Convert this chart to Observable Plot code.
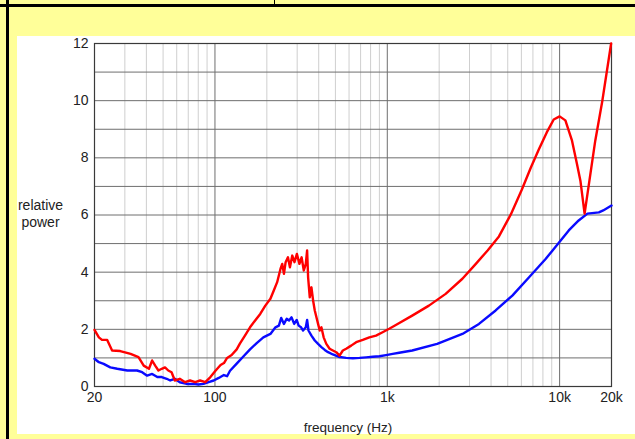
<!DOCTYPE html>
<html>
<head>
<meta charset="utf-8">
<script src="https://cdn.jsdelivr.net/npm/d3@7"></script>
<script src="https://cdn.jsdelivr.net/npm/@observablehq/plot@0.6"></script>
<style>
  html, body { margin: 0; padding: 0; }
  body { width: 635px; height: 439px; background: #ffff99; position: relative; overflow: hidden; font-family: "Liberation Sans", Arial, sans-serif; }
  #panel { position: absolute; left: 17px; top: 36px; width: 618px; height: 398px; background: #ffffff; }
  #hline { position: absolute; left: 0; top: 4px; width: 635px; height: 3px; background: #000; }
  #vline { position: absolute; left: 6px; top: 0; width: 3px; height: 439px; background: #000; }
  #tick { position: absolute; left: 274px; top: 0; width: 1px; height: 5px; background: #000; }
  #chart { position: absolute; left: 0; top: 0; }
</style>
</head>
<body>
<div id="panel"></div>
<div id="hline"></div>
<div id="vline"></div>
<div id="tick"></div>
<div id="chart"></div>
<script>
// Red series (frequency in Hz, relative power)
const redFreq = [20, 21.2, 22.1, 23.7, 25.3, 28.2, 32.4, 36.0, 38.6, 41.4, 43.2, 45.0, 47.0, 49.1, 51.3, 53.6, 56.0, 58.5, 62.5, 67.1, 71.7, 76.8, 82.0, 87.9, 94.1,
  100.7, 107.8, 112.8, 117.6, 125, 133.7, 139.5, 149.3, 159.8, 171.1, 183.1, 196, 209.8, 219.5, 229.6, 240.2, 245.7, 251.4, 257.1, 265.2, 272.3, 281, 289.3, 298.8,
  309.2, 318.2, 327.7, 336.6, 342.6, 347.2, 355, 363, 371.1, 379.5, 388, 396.6, 405.5, 414.6, 427.3, 442.8, 462.8, 483.5, 505.6, 528.4, 552.2, 577.3, 617.2, 659.9,
  720.7, 787.1, 860.2, 939.5, 1026, 1121, 1395, 1744, 2181, 2728, 3264, 3820, 4446, 5210, 6040, 6810, 7570, 8420, 9240, 10000, 10800, 11800, 12600, 13200, 13960, 16100, 17700, 19900];
const redPower = [1.98, 1.72, 1.63, 1.63, 1.26, 1.24, 1.14, 1.03, 0.73, 0.62, 0.91, 0.73, 0.56, 0.62, 0.67, 0.56, 0.50, 0.21, 0.27, 0.15, 0.21, 0.15, 0.21, 0.15, 0.33,
  0.55, 0.75, 0.82, 1.0, 1.1, 1.3, 1.5, 1.78, 2.07, 2.31, 2.54, 2.83, 3.07, 3.36, 3.65, 4.12, 4.29, 3.94, 4.35, 4.52, 4.17, 4.58, 4.35, 4.64,
  4.29, 4.52, 4.06, 4.29, 4.76, 3.82, 3.12, 3.47, 3.01, 2.66, 2.42, 2.19, 1.96, 2.07, 1.72, 1.49, 1.32, 1.26, 1.20, 1.08, 1.26, 1.32, 1.43, 1.55,
  1.63, 1.72, 1.78, 1.90, 2.02, 2.15, 2.48, 2.83, 3.24, 3.77, 4.29, 4.76, 5.25, 6.02, 6.89, 7.66, 8.29, 8.89, 9.34, 9.45, 9.31, 8.6, 7.79, 7.2, 6.05, 8.6, 10.0, 12.0];

// Blue series
const blueFreq = [20, 21.2, 22.6, 24.7, 27.1, 31.0, 35.3, 37.8, 40.4, 43.2, 46.3, 49.1, 52.5, 55.0, 58.5, 62.5, 68.6, 75.0, 80.2, 85.8, 91.9, 98.3,
  105.2, 112.6, 117.6, 122.3, 133.7, 146.1, 159.8, 174.7, 190.9, 209.8, 224.5, 234.9, 242.4, 251.4, 260.8, 269.2, 278.3, 288.2, 298.1, 306, 315.9, 324.7,
  336.6, 342.6, 348.9, 363, 379.5, 396.6, 414.6, 433.7, 453.3, 483.5, 528.4, 577.3, 631, 690, 754, 824, 900, 984, 1075, 1172, 1395, 1947, 2728, 3403,
  4253, 5317, 6650, 8315, 9100, 11300, 12900, 14500, 16900, 17900, 20000];
const bluePower = [0.97, 0.85, 0.79, 0.67, 0.62, 0.56, 0.56, 0.50, 0.38, 0.44, 0.33, 0.33, 0.27, 0.21, 0.27, 0.15, 0.09, 0.09, 0.07, 0.09, 0.15, 0.21,
  0.30, 0.40, 0.36, 0.55, 0.80, 1.05, 1.30, 1.52, 1.72, 1.84, 2.07, 2.13, 2.40, 2.19, 2.37, 2.31, 2.42, 2.19, 2.33, 2.13, 2.07, 1.96,
  2.07, 2.33, 1.96, 1.78, 1.61, 1.49, 1.38, 1.28, 1.20, 1.12, 1.03, 1.00, 0.99, 1.00, 1.02, 1.04, 1.06, 1.10, 1.14, 1.18, 1.26, 1.49, 1.84, 2.19,
  2.66, 3.18, 3.82, 4.47, 4.76, 5.46, 5.81, 6.05, 6.09, 6.16, 6.33];

// Axis ticks
const xTickValues = [20, 100, 1000, 10000, 20000];
const xTickLabels = ["20", "100", "1k", "10k", "20k"];
const yTickValues = [0, 2, 4, 6, 8, 10, 12];
const yGridValues = [1, 2, 3, 4, 5, 6, 7, 8, 9, 10, 11];
const xMajorGrid = [100, 1000, 10000];
const xMinorGrid = [30, 40, 50, 60, 70, 80, 90, 200, 300, 400, 500, 600, 700, 800, 900,
  2000, 3000, 4000, 5000, 6000, 7000, 8000, 9000];

const red = redFreq.map((f, i) => ({f, p: redPower[i]}));
const blue = blueFreq.map((f, i) => ({f, p: bluePower[i]}));

const chart = Plot.plot({
  width: 635,
  height: 439,
  marginLeft: 94,
  marginRight: 24,
  marginTop: 43,
  marginBottom: 53,
  style: {background: "transparent", fontFamily: "'Liberation Sans', Arial, sans-serif", fontSize: "14px", color: "#222"},
  x: {type: "log", domain: [20, 20000]},
  y: {domain: [0, 12]},
  marks: [
    Plot.ruleX(xMinorGrid, {stroke: "#cfcfcf", strokeWidth: 1}),
    Plot.ruleX(xMajorGrid, {stroke: "#6e6e6e", strokeWidth: 1}),
    Plot.ruleY(yGridValues, {stroke: "#6e6e6e", strokeWidth: 1}),
    Plot.frame({stroke: "#3a3a3a", strokeWidth: 1.2}),
    Plot.axisX({ticks: xTickValues, tickFormat: (d) => xTickLabels[xTickValues.indexOf(d)], tickSize: 0, tickPadding: 6, label: null, fontSize: 14}),
    Plot.axisY({ticks: yTickValues, tickSize: 0, tickPadding: 6, label: null, fontSize: 14}),
    Plot.line(blue, {x: "f", y: "p", stroke: "#0a0aff", strokeWidth: 2.4}),
    Plot.line(red, {x: "f", y: "p", stroke: "#ff0000", strokeWidth: 2.4}),
    Plot.text(["frequency (Hz)"], {frameAnchor: "bottom", dx: -5, dy: 41, lineAnchor: "middle", fontSize: 13.5, fill: "#222"}),
    Plot.text(["relative\npower"], {frameAnchor: "left", textAnchor: "middle", dx: -54, dy: -2, lineAnchor: "middle", lineHeight: 1.25, fontSize: 14, fill: "#222"})
  ]
});
document.getElementById("chart").appendChild(chart);
</script>
</body>
</html>
